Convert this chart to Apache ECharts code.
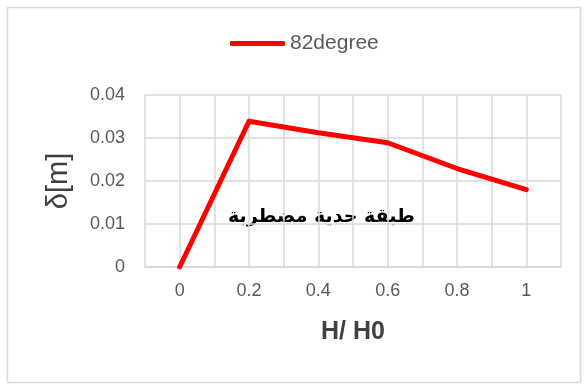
<!DOCTYPE html>
<html>
<head>
<meta charset="utf-8">
<script src="https://cdn.jsdelivr.net/npm/echarts@6/dist/echarts.min.js"></script>
<style>
  html, body { margin: 0; padding: 0; background: #fff; }
  #chart { width: 584px; height: 385px; }
</style>
</head>
<body>
<div id="chart"></div>
<script>
// Relative height H/H0 and measured displacement δ [m]
const hRatio = [0, 0.2, 0.4, 0.6, 0.8, 1];
const delta82 = [0, 0.0339, 0.0312, 0.0289, 0.0229, 0.0180];
const seriesName = '82degree';
const yTicks = [0, 0.01, 0.02, 0.03, 0.04];
const annotation = 'طبقة حدية مضطربة';

const chart = echarts.init(document.getElementById('chart'), null, { renderer: 'canvas' });

const gridColor = '#d9d9d9';
const labelColor = '#595959';

chart.setOption({
  backgroundColor: '#fff',
  animation: false,
  legend: {
    data: [seriesName],
    left: 225,
    top: 28,
    icon: 'roundRect',
    itemWidth: 55,
    itemHeight: 5,
    textStyle: { fontFamily: 'Liberation Sans', fontSize: 21, color: labelColor }
  },
  grid: { left: 145, right: 23, top: 95, bottom: 118 },
  xAxis: {
    type: 'value',
    min: -0.1,
    max: 1.1,
    interval: 0.1,
    axisLine: { show: true, lineStyle: { color: gridColor, width: 1.5 } },
    axisTick: { show: false },
    splitLine: { show: true, lineStyle: { color: gridColor, width: 1.5 } },
    axisLabel: {
      margin: 15,
      fontFamily: 'Liberation Sans',
      fontSize: 18,
      color: labelColor,
      formatter: function (v) {
        const k = Math.round(v * 10);
        if (k < 0 || k > 10 || k % 2 !== 0) return '';
        const match = hRatio.find(h => Math.abs(h - v) < 1e-9);
        return match === undefined ? '' : String(match);
      }
    },
    name: 'H/ H0',
    nameLocation: 'middle',
    nameGap: 53,
    nameTextStyle: { fontFamily: 'Liberation Sans', fontWeight: 'bold', fontSize: 25, color: '#404040' }
  },
  yAxis: {
    type: 'value',
    min: yTicks[0],
    max: yTicks[yTicks.length - 1],
    interval: 0.01,
    axisLine: { show: false },
    axisTick: { show: false },
    splitLine: { show: true, lineStyle: { color: gridColor, width: 1.5 } },
    axisLabel: {
      margin: 20,
      fontFamily: 'Liberation Sans',
      fontSize: 18,
      color: labelColor,
      formatter: function (v) { return String(+v.toFixed(2)); }
    },
    name: 'δ[m]',
    nameLocation: 'middle',
    nameGap: 72,
    nameRotate: 90,
    nameTextStyle: { fontFamily: 'Liberation Sans', fontSize: 29, color: '#404040' }
  },
  series: [{
    name: seriesName,
    type: 'line',
    data: hRatio.map((h, i) => [h, delta82[i]]),
    showSymbol: false,
    symbol: 'none',
    lineStyle: { color: '#ff0000', width: 5, cap: 'round', join: 'round' },
    itemStyle: { color: '#ff0000' }
  }],
  graphic: [
    {
      type: 'rect',
      left: 5, top: 5,
      shape: { width: 573, height: 375 },
      style: { fill: 'none', stroke: gridColor, lineWidth: 1.5 },
      silent: true
    },
    {
      type: 'text',
      left: 228, top: 208,
      style: {
        text: annotation,
        font: 'bold 19px "DejaVu Sans"',
        fill: '#000'
      }
    }
  ]
});
</script>
</body>
</html>
